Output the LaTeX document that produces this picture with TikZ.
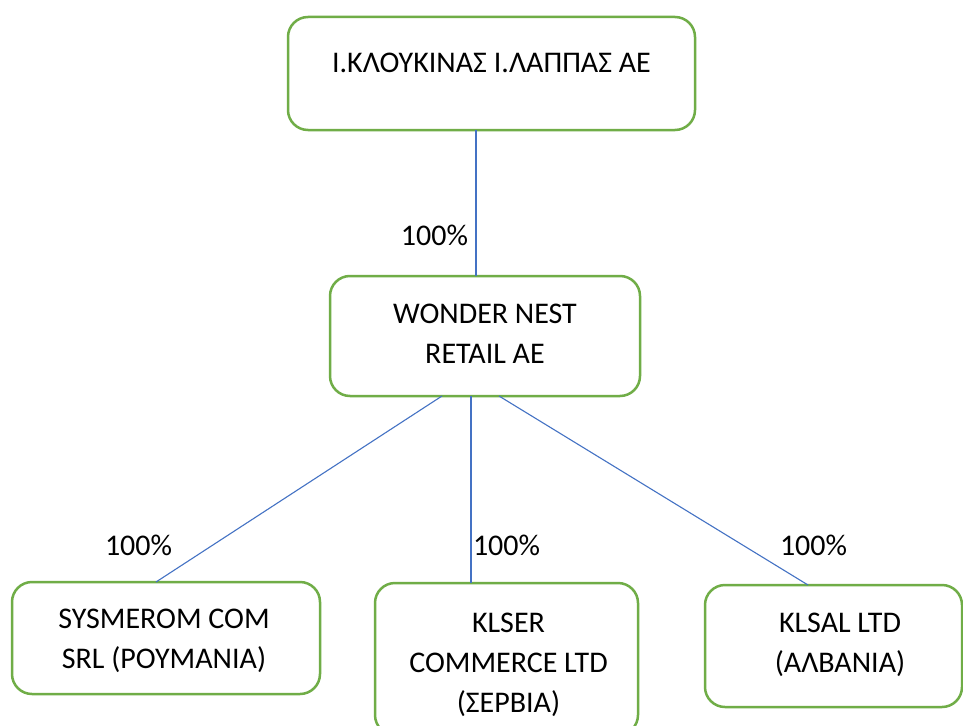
\documentclass[tikz,border=0pt]{standalone}
\usepackage{fontspec}
\setmainfont{Carlito}
\definecolor{boxgreen}{HTML}{70AD47}
\definecolor{linkblue}{HTML}{4472C4}
\tikzset{
  orgbox/.style={draw=boxgreen, line width=2.5pt, rounded corners=20pt, rectangle, inner sep=0pt, outer sep=0pt, fill=white},
  orgtxt/.style={inner sep=0pt, outer sep=0pt, anchor=base, font=\fontsize{30}{40}\selectfont},
  pct/.style={inner sep=0pt, outer sep=0pt, font=\fontsize{30}{40}\selectfont},
  link/.style={draw=linkblue, line width=1.1pt}
}
\newcommand{\lines}[1]{\setlength{\tabcolsep}{0pt}\begin{tabular}[t]{c}#1\end{tabular}}
\begin{document}
\begin{tikzpicture}[x=1pt,y=-1pt]
\clip (0,0) rectangle (963,725);
\fill[white] (0,0) rectangle (963,725);
% boxes
\node[orgbox, minimum width=407pt, minimum height=113pt] (top) at (491.5,73.5) {};
\node[orgbox, minimum width=310pt, minimum height=120pt] (wonder) at (485,336) {};
\node[orgbox, minimum width=308pt, minimum height=112pt] (sys) at (166,638) {};
\node[orgbox, minimum width=263pt, minimum height=152pt] (klser) at (506.5,659) {};
\node[orgbox, minimum width=257pt, minimum height=122pt] (klsal) at (833.5,646) {};
% texts
\node[orgtxt] (ttop) at (491.5,73) {\lines{Ι.ΚΛΟΥΚΙΝΑΣ Ι.ΛΑΠΠΑΣ ΑΕ}};
\node[orgtxt] (twonder) at (485,323) {\lines{WONDER NEST\\RETAIL ΑΕ}};
\node[orgtxt] (tsys) at (164,628) {\lines{SYSMEROM COM\\SRL (ΡΟΥΜΑΝΙΑ)}};
\node[orgtxt] (tklser) at (508.5,632) {\lines{KLSER\\COMMERCE LTD\\(ΣΕΡΒΙΑ)}};
\node[orgtxt] (tklsal) at (840,632) {\lines{KLSAL LTD\\(ΑΛΒΑΝΙΑ)}};
% connectors
\draw[link] (top.south -| 476,0) -- (wonder.north -| 476,0);
\draw[link] (wonder.south -| 442,0) -- (sys.north -| 156,0);
\draw[link] (wonder.south -| 471,0) -- (klser.north -| 471,0);
\draw[link] (wonder.south -| 499,0) -- (klsal.north -| 808,0);
% percentages
\node[pct, anchor=base east] (p1) at (468,245) {100\%};
\node[pct, anchor=base west] (p2) at (105,555) {100\%};
\node[pct, anchor=base west] (p3) at (473,555) {100\%};
\node[pct, anchor=base west] (p4) at (780,555) {100\%};
\end{tikzpicture}
\end{document}
